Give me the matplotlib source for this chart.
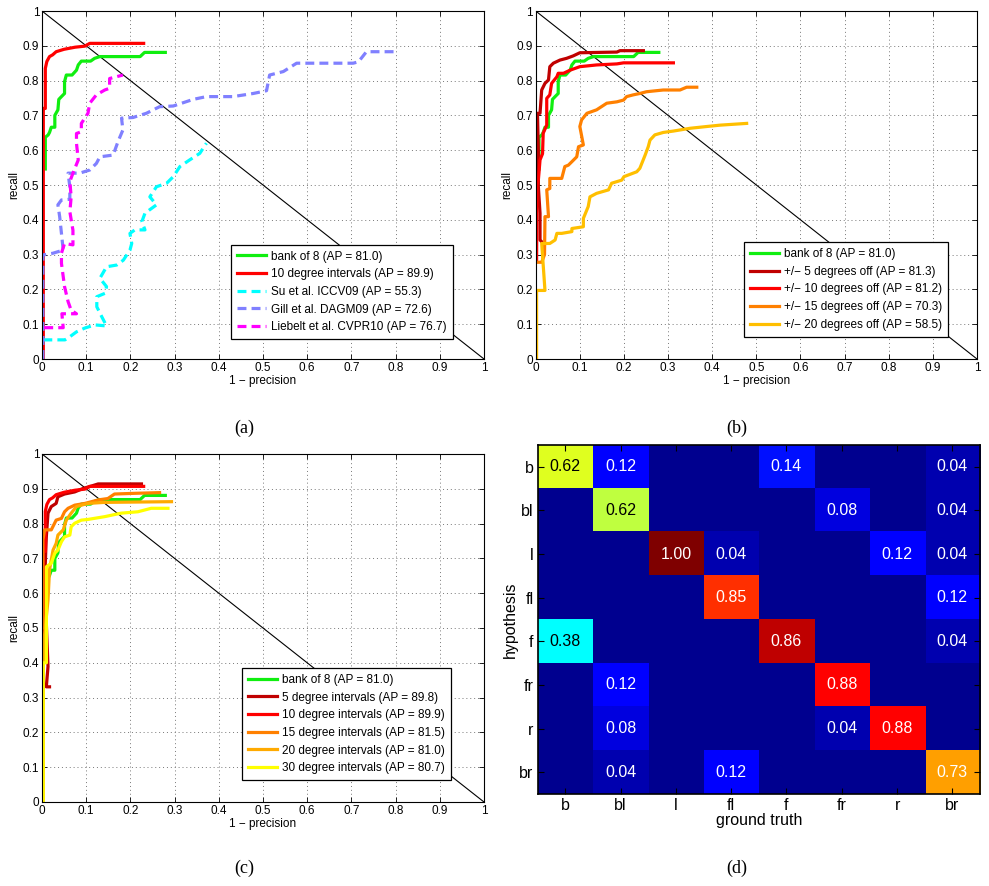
import numpy as np
import matplotlib
matplotlib.use("Agg")
import matplotlib.pyplot as plt
from matplotlib.colors import ListedColormap

plt.rcParams['font.family'] = ['Liberation Sans', 'DejaVu Sans']

# ---------------- data: panel (a) ----------------
bank8_x = [0.0075, 0.0075, 0.014, 0.017, 0.021, 0.029, 0.029, 0.036, 0.038, 0.044, 0.051, 0.051,
           0.055, 0.068, 0.078, 0.082, 0.089, 0.110, 0.119, 0.131, 0.222, 0.232, 0.279]
bank8_y = [0.546, 0.637, 0.644, 0.651, 0.666, 0.666, 0.700, 0.716, 0.746, 0.754, 0.763, 0.797,
           0.816, 0.816, 0.830, 0.845, 0.856, 0.856, 0.864, 0.869, 0.869, 0.881, 0.881]

deg10_x = [0.003, 0.003, 0.0075, 0.0075, 0.011, 0.017, 0.024, 0.032, 0.05, 0.075, 0.097, 0.108, 0.23]
deg10_y = [0.0, 0.72, 0.72, 0.835, 0.855, 0.869, 0.874, 0.883, 0.89, 0.896, 0.899, 0.907, 0.907]

su_x = [0.003, 0.052, 0.063, 0.078, 0.097, 0.12, 0.146, 0.135, 0.124, 0.124, 0.143, 0.146, 0.131,
        0.146, 0.169, 0.184, 0.199, 0.203, 0.199, 0.210, 0.233, 0.226, 0.233, 0.259, 0.244, 0.259,
        0.282, 0.297, 0.312, 0.334, 0.357, 0.372]
su_y = [0.055, 0.055, 0.064, 0.078, 0.089, 0.098, 0.095, 0.122, 0.150, 0.179, 0.189, 0.208, 0.232,
        0.265, 0.270, 0.284, 0.313, 0.332, 0.361, 0.371, 0.371, 0.395, 0.419, 0.443, 0.466, 0.495,
        0.505, 0.524, 0.553, 0.572, 0.591, 0.620]

gill_x = [0.002, 0.002, 0.025, 0.048, 0.044, 0.040, 0.036, 0.044, 0.063, 0.063, 0.059, 0.085, 0.108,
          0.123, 0.131, 0.161, 0.172, 0.183, 0.180, 0.206, 0.236, 0.266, 0.297, 0.342, 0.372, 0.432,
          0.478, 0.508, 0.515, 0.546, 0.576, 0.704, 0.716, 0.734, 0.802]
gill_y = [0.0, 0.299, 0.304, 0.313, 0.361, 0.409, 0.443, 0.457, 0.459, 0.495, 0.534, 0.534, 0.543,
          0.562, 0.581, 0.586, 0.625, 0.658, 0.692, 0.694, 0.706, 0.725, 0.727, 0.746, 0.754, 0.754,
          0.763, 0.771, 0.816, 0.826, 0.850, 0.850, 0.854, 0.883, 0.883]

liebelt_x = [0.005, 0.048, 0.045, 0.078, 0.066, 0.059, 0.051, 0.044, 0.044, 0.051, 0.070, 0.070,
             0.063, 0.066, 0.063, 0.070, 0.082, 0.078, 0.078, 0.089, 0.089, 0.104, 0.108, 0.123,
             0.142, 0.153, 0.153, 0.168, 0.183]
liebelt_y = [0.090, 0.090, 0.130, 0.130, 0.140, 0.165, 0.208, 0.275, 0.304, 0.332, 0.328, 0.370,
             0.423, 0.466, 0.510, 0.534, 0.572, 0.620, 0.648, 0.653, 0.677, 0.706, 0.735, 0.759,
             0.773, 0.778, 0.806, 0.811, 0.816]

# ---------------- data: panel (b) ----------------
off5_x = [0.0136, 0.0098, 0.0098, 0.006, 0.006, 0.004, 0.0098, 0.0136, 0.021, 0.029, 0.032, 0.040,
          0.055, 0.070, 0.085, 0.100, 0.184, 0.191, 0.244]
off5_y = [0.337, 0.342, 0.419, 0.495, 0.600, 0.706, 0.706, 0.773, 0.792, 0.802, 0.840, 0.850,
          0.859, 0.864, 0.871, 0.880, 0.882, 0.886, 0.886]

off10_x = [0.002, 0.003, 0.006, 0.0098, 0.0155, 0.017, 0.025, 0.025, 0.032, 0.036, 0.048, 0.051,
           0.063, 0.078, 0.100, 0.138, 0.184, 0.199, 0.312]
off10_y = [0.280, 0.500, 0.514, 0.572, 0.590, 0.649, 0.672, 0.749, 0.759, 0.792, 0.811, 0.821,
           0.821, 0.830, 0.840, 0.845, 0.848, 0.851, 0.851]

off15_x = [0.002, 0.0136, 0.020, 0.021, 0.029, 0.025, 0.032, 0.032, 0.059, 0.066, 0.074, 0.082,
           0.093, 0.097, 0.108, 0.100, 0.104, 0.116, 0.138, 0.161, 0.184, 0.199, 0.206, 0.221,
           0.236, 0.251, 0.289, 0.327, 0.342, 0.365]
off15_y = [0.278, 0.278, 0.300, 0.409, 0.409, 0.486, 0.490, 0.519, 0.519, 0.553, 0.557, 0.567,
           0.581, 0.610, 0.615, 0.668, 0.687, 0.706, 0.716, 0.735, 0.739, 0.744, 0.754, 0.759,
           0.763, 0.768, 0.773, 0.773, 0.781, 0.781]

off20_x = [0.002, 0.002, 0.021, 0.0136, 0.032, 0.044, 0.048, 0.059, 0.082, 0.082, 0.108, 0.108,
           0.119, 0.123, 0.138, 0.165, 0.172, 0.195, 0.200, 0.229, 0.236, 0.248, 0.255, 0.259,
           0.270, 0.289, 0.312, 0.350, 0.387, 0.418, 0.478]
off20_y = [0.0, 0.197, 0.197, 0.332, 0.332, 0.342, 0.361, 0.361, 0.366, 0.375, 0.380, 0.404,
           0.438, 0.466, 0.476, 0.486, 0.505, 0.514, 0.524, 0.538, 0.548, 0.586, 0.610, 0.629,
           0.644, 0.651, 0.655, 0.663, 0.668, 0.672, 0.677]

# ---------------- data: panel (c) ----------------
int5_x = [0.017, 0.0098, 0.0136, 0.006, 0.0098, 0.0136, 0.021, 0.032, 0.036, 0.051, 0.074, 0.093,
          0.112, 0.127, 0.225]
int5_y = [0.331, 0.331, 0.389, 0.638, 0.762, 0.830, 0.849, 0.858, 0.877, 0.885, 0.891, 0.901,
          0.908, 0.914, 0.914]

int15_x = [0.002, 0.002, 0.006, 0.021, 0.032, 0.044, 0.051, 0.059, 0.074, 0.097, 0.127, 0.149,
           0.164, 0.210, 0.266]
int15_y = [0.500, 0.753, 0.782, 0.782, 0.810, 0.815, 0.834, 0.844, 0.853, 0.858, 0.868, 0.872,
           0.885, 0.887, 0.889]

int20_x = [0.003, 0.005, 0.0136, 0.017, 0.025, 0.032, 0.036, 0.048, 0.055, 0.066, 0.078, 0.104,
           0.142, 0.293]
int20_y = [0.400, 0.470, 0.580, 0.667, 0.724, 0.743, 0.767, 0.782, 0.810, 0.830, 0.849, 0.858,
           0.861, 0.863]

int30_x = [0.003, 0.003, 0.010, 0.010, 0.021, 0.029, 0.036, 0.044, 0.051, 0.063, 0.066, 0.074,
           0.089, 0.104, 0.142, 0.179, 0.217, 0.247, 0.285]
int30_y = [0.0, 0.400, 0.400, 0.676, 0.686, 0.715, 0.724, 0.748, 0.762, 0.767, 0.791, 0.801,
           0.810, 0.812, 0.820, 0.830, 0.834, 0.844, 0.844]

# ---------------- data: panel (d) ----------------
classes = ['b', 'bl', 'l', 'fl', 'f', 'fr', 'r', 'br']
conf = np.array([
    [0.62, 0.12, 0.00, 0.00, 0.14, 0.00, 0.00, 0.04],
    [0.00, 0.62, 0.00, 0.00, 0.00, 0.08, 0.00, 0.04],
    [0.00, 0.00, 1.00, 0.04, 0.00, 0.00, 0.12, 0.04],
    [0.00, 0.00, 0.00, 0.85, 0.00, 0.00, 0.00, 0.12],
    [0.38, 0.00, 0.00, 0.00, 0.86, 0.00, 0.00, 0.04],
    [0.00, 0.12, 0.00, 0.00, 0.00, 0.88, 0.00, 0.00],
    [0.00, 0.08, 0.00, 0.00, 0.00, 0.04, 0.88, 0.00],
    [0.00, 0.04, 0.00, 0.12, 0.00, 0.00, 0.00, 0.73],
])
# colour level of each cell as it appears in the picture
conf_colour = np.array([
    [0.58, 0.12, 0.00, 0.00, 0.14, 0.00, 0.00, 0.04],
    [0.00, 0.56, 0.00, 0.00, 0.00, 0.08, 0.00, 0.04],
    [0.00, 0.00, 1.00, 0.04, 0.00, 0.00, 0.12, 0.04],
    [0.00, 0.00, 0.00, 0.82, 0.00, 0.00, 0.00, 0.12],
    [0.36, 0.00, 0.00, 0.00, 0.93, 0.00, 0.00, 0.04],
    [0.00, 0.12, 0.00, 0.00, 0.00, 0.87, 0.00, 0.00],
    [0.00, 0.08, 0.00, 0.00, 0.00, 0.04, 0.87, 0.00],
    [0.00, 0.04, 0.00, 0.12, 0.00, 0.00, 0.00, 0.71],
])

ticks = [0, 0.1, 0.2, 0.3, 0.4, 0.5, 0.6, 0.7, 0.8, 0.9, 1]
tick_labels = ['0', '0.1', '0.2', '0.3', '0.4', '0.5', '0.6', '0.7', '0.8', '0.9', '1']


def matlab_jet(n=64):
    m = int(np.ceil(n / 4))
    u = np.concatenate([np.arange(1, m + 1) / m, np.ones(m - 1), np.arange(m, 0, -1) / m])
    g = int(np.ceil(m / 2)) - (1 if n % 4 == 1 else 0) + np.arange(1, len(u) + 1)
    r = g + m
    b = g - m
    cmap = np.zeros((n, 3))
    for ch, idx in ((0, r), (1, g), (2, b)):
        ok = (idx >= 1) & (idx <= n)
        cmap[idx[ok] - 1, ch] = u[ok]
    return ListedColormap(cmap)


W, H = 989, 886
fig = plt.figure(figsize=(W / 100, H / 100), dpi=100)

LW = 2.3
DASH = (0, (2.8, 1.6))
GREEN = '#10ee10'


def pr_axes(rect):
    ax = fig.add_axes(rect)
    ax.set_xlim(0, 1)
    ax.set_ylim(0, 1)
    ax.set_xticks(ticks)
    ax.set_yticks(ticks)
    ax.set_xticklabels(tick_labels, fontsize=8.5)
    ax.set_yticklabels(tick_labels, fontsize=8.5)
    ax.tick_params(direction='in', length=3.5, width=0.6, top=True, right=True, pad=2)
    ax.grid(True, linestyle=(0, (1, 3)), color='#777777', linewidth=0.7)
    for s in ax.spines.values():
        s.set_linewidth(0.8)
    ax.plot([0, 1], [1, 0], color='black', linewidth=0.8)
    ax.set_xlabel('1 \u2212 precision', fontsize=8.5, labelpad=1)
    ax.set_ylabel('recall', fontsize=8.5, labelpad=2)
    return ax


def legend(ax, anchor):
    leg = ax.legend(loc='lower right', bbox_to_anchor=anchor, borderaxespad=0,
                    fontsize=8.5, handlelength=2.5, handletextpad=0.4,
                    labelspacing=0.48, borderpad=0.5, fancybox=False, framealpha=1)
    leg.get_frame().set_edgecolor('black')
    leg.get_frame().set_linewidth(0.9)
    return leg


def px_rect(l, t, r, b):
    return [l / W, 1 - b / H, (r - l) / W, (b - t) / H]


# ---------- (a) ----------
axa = pr_axes(px_rect(42, 11, 484, 359))
axa.plot(bank8_x, bank8_y, color=GREEN, lw=LW, label='bank of 8 (AP = 81.0)')
axa.plot(deg10_x, deg10_y, color='#ff0000', lw=LW, label='10 degree intervals (AP = 89.9)')
axa.plot(su_x, su_y, color='#00ffff', lw=LW, ls=DASH, label='Su et al. ICCV09 (AP = 55.3)')
axa.plot(gill_x, gill_y, color='#8080ff', lw=LW, ls=DASH, label='Gill et al. DAGM09 (AP = 72.6)')
axa.plot(liebelt_x, liebelt_y, color='#ff00ff', lw=LW, ls=DASH,
         label='Liebelt et al. CVPR10 (AP = 76.7)')
legend(axa, (0.929, 0.057))

# ---------- (b) ----------
axb = pr_axes(px_rect(535.7, 11, 977, 359))
axb.plot(bank8_x, bank8_y, color=GREEN, lw=LW, label='bank of 8 (AP = 81.0)')
axb.plot(off5_x, off5_y, color='#c00000', lw=LW, label='+/\u2212 5 degrees off (AP = 81.3)')
axb.plot(off10_x, off10_y, color='#ff0000', lw=LW, label='+/\u2212 10 degrees off (AP = 81.2)')
axb.plot(off15_x, off15_y, color='#ff8000', lw=LW, label='+/\u2212 15 degrees off (AP = 70.3)')
axb.plot(off20_x, off20_y, color='#ffbf00', lw=LW, label='+/\u2212 20 degrees off (AP = 58.5)')
legend(axb, (0.935, 0.064))

# ---------- (c) ----------
axc = pr_axes(px_rect(42, 454, 484, 802))
axc.plot(bank8_x, bank8_y, color=GREEN, lw=LW, label='bank of 8 (AP = 81.0)')
axc.plot(int5_x, int5_y, color='#c00000', lw=LW, label='5 degree intervals (AP = 89.8)')
axc.plot(deg10_x, deg10_y, color='#ff0000', lw=LW, label='10 degree intervals (AP = 89.9)')
axc.plot(int15_x, int15_y, color='#ff8000', lw=LW, label='15 degree intervals (AP = 81.5)')
axc.plot(int20_x, int20_y, color='#ffaa00', lw=LW, label='20 degree intervals (AP = 81.0)')
axc.plot(int30_x, int30_y, color='#ffff00', lw=LW, label='30 degree intervals (AP = 80.7)')
legend(axc, (0.925, 0.063))

# ---------- (d) ----------
axd = fig.add_axes(px_rect(537.7, 445, 980, 794))
axd.imshow(conf_colour, cmap=matlab_jet(64), vmin=0, vmax=1, aspect='auto',
           interpolation='nearest')
n = len(classes)
for i in range(n):
    for j in range(n):
        v = conf[i, j]
        if v > 0:
            tc = 'black' if 0.3 < conf_colour[i, j] < 0.7 else 'white'
            axd.text(j, i, f'{v:.2f}', ha='center', va='center', color=tc, fontsize=11.5)
axd.set_xticks(range(n))
axd.set_yticks(range(n))
axd.set_xticklabels(classes, fontsize=11.5)
axd.set_yticklabels(classes, fontsize=11.5)
axd.tick_params(direction='in', length=4, width=0.8, top=True, right=True, pad=3,
                colors='black')
for s in axd.spines.values():
    s.set_linewidth(1.2)
axd.set_xlabel('ground truth', fontsize=11.5, labelpad=0)
axd.set_ylabel('hypothesis', fontsize=11.5, labelpad=1)

# ---------- sub-figure labels ----------
for txt, x, y in [('(a)', 244, 428), ('(b)', 737, 428), ('(c)', 244, 868), ('(d)', 737, 868)]:
    fig.text(x / W, 1 - y / H, txt, ha='center', va='center', fontsize=13,
             family=['Liberation Serif', 'DejaVu Serif'])

fig.savefig('out.png', dpi=100)
